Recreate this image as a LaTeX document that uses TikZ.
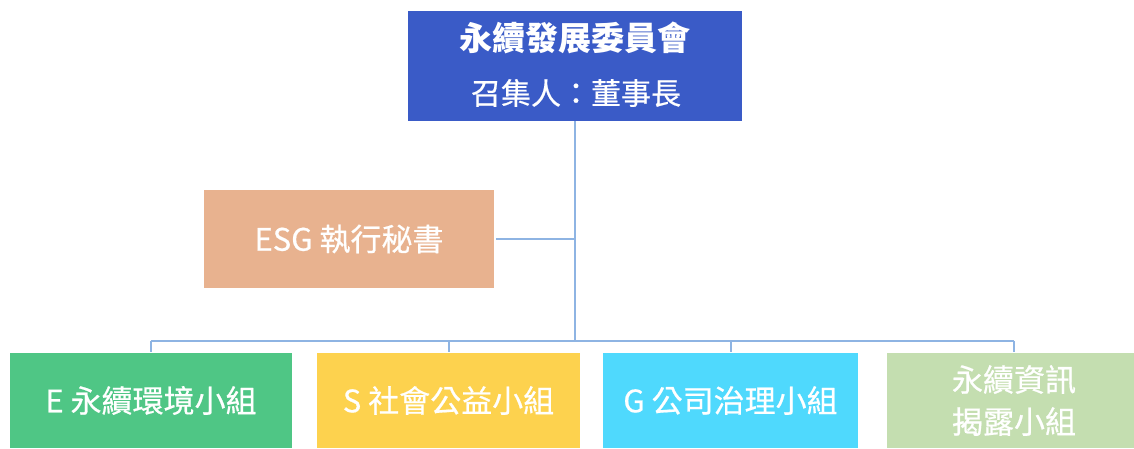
\documentclass[tikz,border=0pt]{standalone}
\usepackage{fontspec}
\setmainfont{Noto Sans CJK TC}
\newfontfamily\medfont[FakeBold=0.6]{Noto Sans CJK TC}
\definecolor{topblue}{HTML}{3A5BC7}
\definecolor{esgc}{HTML}{E8B28F}
\definecolor{ec}{HTML}{4FC685}
\definecolor{sc}{HTML}{FDD24E}
\definecolor{gc}{HTML}{4FD9FD}
\definecolor{dc}{HTML}{C4DEB0}
\definecolor{linec}{HTML}{8EB4E3}
\begin{document}
\begin{tikzpicture}[x=1pt,y=-1pt,
  box/.style={draw=none,inner sep=0pt,outer sep=0pt,text=white,align=center,font=\fontsize{31}{42}\medfont},
  lbl/.style={text=white,inner sep=0pt,align=center},
  conn/.style={draw=linec,line width=2pt}]
\useasboundingbox (0,0) rectangle (1134,448);
\clip (0,0) rectangle (1134,448);
% boxes
\node[box,fill=topblue,minimum width=334pt,minimum height=110pt] (top) at (575,66) {};
\node[lbl,font=\fontsize{33}{40}\selectfont\bfseries] (t1) at (575,38) {永續發展委員會};
\node[lbl,font=\fontsize{30}{40}\medfont] (t2) at (576,93) {召集人：董事長};
\node[box,fill=esgc,minimum width=290pt,minimum height=98pt] (esg) at (349,239) {ESG 執行秘書};
\node[box,fill=ec,minimum width=282pt,minimum height=95pt] (e) at (151,400.5) {E 永續環境小組};
\node[box,fill=sc,minimum width=263pt,minimum height=95pt] (s) at (448.5,400.5) {S 社會公益小組};
\node[box,fill=gc,minimum width=255pt,minimum height=95pt] (g) at (730.5,400.5) {G 公司治理小組};
\node[box,fill=dc,minimum width=254pt,minimum height=95pt] (d) at (1014,400.5) {永續資訊\\揭露小組};
% connectors
\coordinate (j) at (575,239);
\coordinate (b) at (575,341);
\draw[conn] (top.south) -- (b);
\draw[conn] ([xshift=2pt]esg.east) -- (j);
\draw[conn] (e.north |- b) -- (d.north |- b);
\draw[conn] (e.north |- b) -- ([yshift=1pt]e.north);
\draw[conn] (s.north |- b) -- ([yshift=1pt]s.north);
\draw[conn] (g.north |- b) -- ([yshift=1pt]g.north);
\draw[conn] (d.north |- b) -- ([yshift=1pt]d.north);
\end{tikzpicture}
\end{document}
